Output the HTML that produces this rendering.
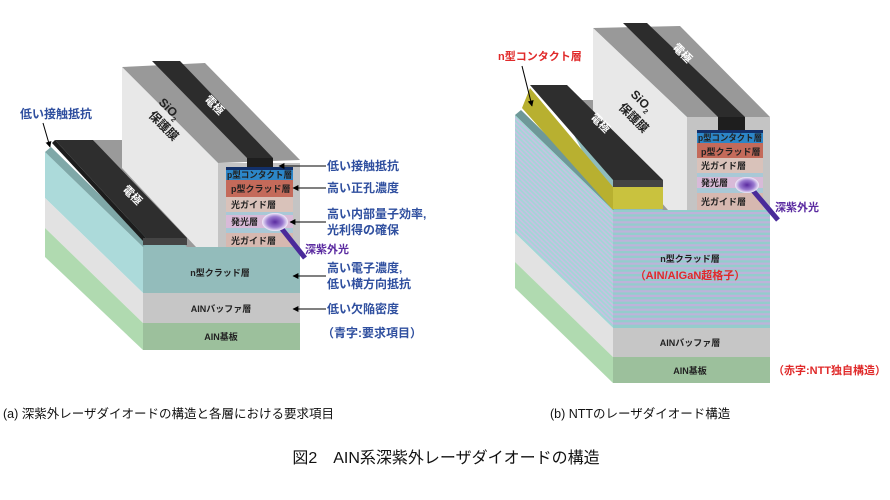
<!DOCTYPE html>
<html><head><meta charset="utf-8"><style>
body{margin:0;background:#fff}
svg{display:block}
text{font-family:"Liberation Sans","Noto Sans CJK JP",sans-serif}
.b{fill:#2f4f9f;font-size:12px;font-weight:bold}
.l{font-size:9px;font-weight:bold;fill:#222}
.w{font-size:11px;font-weight:bold;fill:#fff}
</style></head><body>
<svg width="890" height="500" viewBox="0 0 890 500" xmlns="http://www.w3.org/2000/svg">
<defs>
<radialGradient id="gl"><stop offset="0" stop-color="#5a2aa0"/><stop offset="0.6" stop-color="#9a7ad0"/><stop offset="1" stop-color="#f4eefa"/></radialGradient>
<marker id="ar" viewBox="0 0 10 10" refX="9" refY="5" markerWidth="6" markerHeight="6" orient="auto"><path d="M0,0L10,5L0,10z" fill="#000"/></marker>
</defs>

<!-- ===== (a) ===== -->
<polygon points="45,152 143,247 143,293 45,198" fill="#acdada"/>
<polygon points="45,198 143,293 143,323 45,228" fill="#e2e2e2"/>
<polygon points="45,228 143,323 143,350 45,257" fill="#b0dab0"/>
<polygon points="90,145 200,145 300,245 300,247 143,247" fill="#8fbcbc"/>
<polygon points="45,152 51,147 148,242 143,247" fill="#7fa8a8"/>
<rect x="143" y="247" width="157" height="46" fill="#93bcbb"/>
<rect x="143" y="293" width="157" height="30" fill="#c6c6c6"/>
<rect x="143" y="323" width="157" height="27" fill="#9cc09c"/>
<polygon points="93,140 122,140 218,247 187,247" fill="#9a9a9a"/>
<polygon points="122,67 205,63 300,160 218,163" fill="#999"/>
<polygon points="122,67 218,163 218,247 196,247 122,168" fill="#e8e8e8"/>
<rect x="218" y="163" width="82" height="84" fill="#c4c4c4"/>
<polygon points="152,61 180,61 273,158 247,158" fill="#2c2c2c"/>
<rect x="247" y="158" width="26" height="9" fill="#1e1e1e"/>
<rect x="226" y="167" width="67" height="3" fill="#12306a"/>
<rect x="226" y="170" width="67" height="10" fill="#2c86c8"/>
<rect x="226" y="180" width="67" height="17" fill="#c46a5a"/>
<rect x="226" y="197" width="67" height="15" fill="#d9c2ba"/>
<rect x="226" y="212" width="67" height="3" fill="#a9c8d6"/>
<rect x="226" y="215" width="67" height="13" fill="#d8bad8"/>
<rect x="226" y="228" width="67" height="5" fill="#a9c8d6"/>
<rect x="226" y="233" width="67" height="14" fill="#d6b8b0"/>
<text x="227" y="178" class="l" font-size="7.8" textLength="65" lengthAdjust="spacingAndGlyphs">p型コンタクト層</text>
<text x="231" y="192" class="l">p型クラッド層</text>
<text x="231" y="208" class="l">光ガイド層</text>
<text x="231" y="225" class="l">発光層</text>
<text x="231" y="244" class="l">光ガイド層</text>
<polygon points="52,143 55,140 146,238 143,241" fill="#1c1c1c"/>
<polygon points="55,140 93,140 187,238 146,238" fill="#2e2e2e"/>
<rect x="143" y="238" width="44" height="7" fill="#444"/>
<text class="w" transform="translate(122,190) rotate(45)">電極</text>
<text class="w" transform="translate(204,100) rotate(45)">電極</text>
<text font-size="12" font-weight="bold" fill="#222" transform="translate(158,103) rotate(45)">SiO<tspan font-size="7" dy="3">2</tspan></text>
<text font-size="12" font-weight="bold" fill="#222" transform="translate(148,116) rotate(45)">保護膜</text>
<line x1="278" y1="224" x2="305" y2="258" stroke="#4a2a9a" stroke-width="5"/>
<ellipse cx="275" cy="222" rx="13" ry="9" fill="url(#gl)"/>
<text x="220" y="276" class="l" text-anchor="middle">n型クラッド層</text>
<text x="221" y="312" class="l" text-anchor="middle">AINバッファ層</text>
<text x="221" y="340" class="l" text-anchor="middle">AIN基板</text>
<text x="20" y="118" class="b">低い接触抵抗</text>
<line x1="43" y1="123" x2="50" y2="147" stroke="#000" marker-end="url(#ar)"/>
<text x="327" y="170" class="b">低い接触抵抗</text>
<line x1="326" y1="166" x2="279" y2="166" stroke="#000" marker-end="url(#ar)"/>
<text x="327" y="192" class="b">高い正孔濃度</text>
<line x1="326" y1="188" x2="293" y2="188" stroke="#000" marker-end="url(#ar)"/>
<text x="327" y="218" class="b">高い内部量子効率,</text>
<text x="327" y="234" class="b">光利得の確保</text>
<line x1="326" y1="222" x2="290" y2="222" stroke="#000" marker-end="url(#ar)"/>
<text x="305" y="253" font-size="11" font-weight="bold" fill="#5a2aa0">深紫外光</text>
<text x="327" y="272" class="b">高い電子濃度,</text>
<text x="327" y="288" class="b">低い横方向抵抗</text>
<line x1="326" y1="276" x2="293" y2="276" stroke="#000" marker-end="url(#ar)"/>
<text x="327" y="313" class="b">低い欠陥密度</text>
<line x1="326" y1="309" x2="293" y2="309" stroke="#000" marker-end="url(#ar)"/>
<text x="322" y="337" class="b">（青字:要求項目）</text>

<!-- ===== (b) ===== -->
<polygon points="515,115 613,210 613,328 515,233" fill="#a2d6d6"/>
<path fill="#c8c0e2" d="M515,117L613,212v2.2L515,119.2zM515,121.6L613,216.6v2.2L515,123.8zM515,126.2L613,221.2v2.2L515,128.4zM515,130.8L613,225.8v2.2L515,133zM515,135.4L613,230.4v2.2L515,137.6zM515,140L613,235v2.2L515,142.2zM515,144.6L613,239.6v2.2L515,146.8zM515,149.2L613,244.2v2.2L515,151.4zM515,153.8L613,248.8v2.2L515,156zM515,158.4L613,253.4v2.2L515,160.6zM515,163L613,258v2.2L515,165.2zM515,167.6L613,262.6v2.2L515,169.8zM515,172.2L613,267.2v2.2L515,174.4zM515,176.8L613,271.8v2.2L515,179zM515,181.4L613,276.4v2.2L515,183.6zM515,186L613,281v2.2L515,188.2zM515,190.6L613,285.6v2.2L515,192.8zM515,195.2L613,290.2v2.2L515,197.4zM515,199.8L613,294.8v2.2L515,202zM515,204.4L613,299.4v2.2L515,206.6zM515,209L613,304v2.2L515,211.2zM515,213.6L613,308.6v2.2L515,215.8zM515,218.2L613,313.2v2.2L515,220.4zM515,222.8L613,317.8v2.2L515,225zM515,227.4L613,322.4v2.2L515,229.6z"/>
<polygon points="515,233 613,328 613,357 515,262" fill="#e2e2e2"/>
<polygon points="515,262 613,357 613,383 515,288" fill="#b0dab0"/>
<polygon points="560,108 680,108 770,206 770,210 613,210" fill="#8fbcbc"/>
<polygon points="515,115 521,110 618,205 613,210" fill="#6e9898"/>
<rect x="613" y="210" width="157" height="118" fill="#94cccc"/>
<path fill="#bdb3da" d="M613,212h157v2.2h-157zM613,216.6h157v2.2h-157zM613,221.2h157v2.2h-157zM613,225.8h157v2.2h-157zM613,230.4h157v2.2h-157zM613,235h157v2.2h-157zM613,239.6h157v2.2h-157zM613,244.2h157v2.2h-157zM613,248.8h157v2.2h-157zM613,253.4h157v2.2h-157zM613,258h157v2.2h-157zM613,262.6h157v2.2h-157zM613,267.2h157v2.2h-157zM613,271.8h157v2.2h-157zM613,276.4h157v2.2h-157zM613,281h157v2.2h-157zM613,285.6h157v2.2h-157zM613,290.2h157v2.2h-157zM613,294.8h157v2.2h-157zM613,299.4h157v2.2h-157zM613,304h157v2.2h-157zM613,308.6h157v2.2h-157zM613,313.2h157v2.2h-157zM613,317.8h157v2.2h-157zM613,322.4h157v2.2h-157z"/>
<rect x="613" y="328" width="157" height="29" fill="#c6c6c6"/>
<rect x="613" y="357" width="157" height="26" fill="#9cc09c"/>
<polygon points="570,100 600,100 687,210 663,210" fill="#9a9a9a"/>
<polygon points="593,28 680,26 770,117 687,117" fill="#999"/>
<polygon points="593,28 687,117 687,210 668,210 593,125" fill="#e8e8e8"/>
<rect x="687" y="117" width="83" height="93" fill="#c4c4c4"/>
<polygon points="623,23 647,23 745,117 718,117" fill="#2c2c2c"/>
<rect x="718" y="117" width="27" height="13" fill="#1e1e1e"/>
<rect x="697" y="130" width="66" height="3" fill="#12306a"/>
<rect x="697" y="133" width="66" height="10" fill="#2c86c8"/>
<rect x="697" y="143" width="66" height="15" fill="#c46a5a"/>
<rect x="697" y="158" width="66" height="15" fill="#d9c2ba"/>
<rect x="697" y="173" width="66" height="4" fill="#a9c8d6"/>
<rect x="697" y="177" width="66" height="11" fill="#d8bad8"/>
<rect x="697" y="188" width="66" height="5" fill="#a9c8d6"/>
<rect x="697" y="193" width="66" height="17" fill="#d6b8b0"/>
<text x="698" y="141" class="l" font-size="7.8" textLength="64" lengthAdjust="spacingAndGlyphs">p型コンタクト層</text>
<text x="701" y="155" class="l">p型クラッド層</text>
<text x="701" y="169" class="l">光ガイド層</text>
<text x="701" y="186" class="l">発光層</text>
<text x="701" y="205" class="l">光ガイド層</text>
<polygon points="522,108 530,88 613,187 613,210" fill="#b8b030"/>
<polygon points="613,187 663,187 663,209 613,209" fill="#c9c23e"/>
<polygon points="530,85 567,85 663,180 613,180" fill="#2e2e2e"/>
<rect x="613" y="180" width="50" height="7" fill="#444"/>
<text class="w" transform="translate(590,118) rotate(45)">電極</text>
<text class="w" transform="translate(672,48) rotate(45)">電極</text>
<text font-size="12" font-weight="bold" fill="#222" transform="translate(630,95) rotate(45)">SiO<tspan font-size="7" dy="3">2</tspan></text>
<text font-size="12" font-weight="bold" fill="#222" transform="translate(618,108) rotate(45)">保護膜</text>
<line x1="750" y1="187" x2="778" y2="220" stroke="#4a2a9a" stroke-width="5"/>
<ellipse cx="747" cy="185" rx="12" ry="8" fill="url(#gl)"/>
<text x="775" y="211" font-size="11" font-weight="bold" fill="#5a2aa0">深紫外光</text>
<text x="690" y="262" class="l" text-anchor="middle">n型クラッド層</text>
<text x="690" y="279" font-size="11" font-weight="bold" fill="#e02a2a" text-anchor="middle">（AIN/AlGaN超格子）</text>
<text x="690" y="346" class="l" text-anchor="middle">AINバッファ層</text>
<text x="690" y="374" class="l" text-anchor="middle">AIN基板</text>
<text x="498" y="60" font-size="11" font-weight="bold" fill="#e02a2a">n型コンタクト層</text>
<line x1="522" y1="66" x2="532" y2="106" stroke="#000" marker-end="url(#ar)"/>
<text x="773" y="374" font-size="11" font-weight="bold" fill="#e02a2a">（赤字:NTT独自構造）</text>

<text x="3" y="418" font-size="12.5" fill="#111">(a)  深紫外レーザダイオードの構造と各層における要求項目</text>
<text x="550" y="418" font-size="12.5" fill="#111">(b)  NTTのレーザダイオード構造</text>
<text x="446" y="463" font-size="16" fill="#111" text-anchor="middle">図2　AIN系深紫外レーザダイオードの構造</text>
</svg>
</body></html>
